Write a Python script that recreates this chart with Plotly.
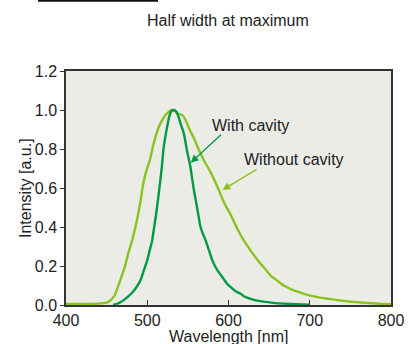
import plotly.graph_objects as go

# Without cavity (light green)
wl_without = [400, 420, 440, 450, 455, 460, 467, 472, 477, 482, 486, 489, 492, 495, 499, 503,
              508, 514, 520, 525, 530, 534, 538, 543, 547, 552, 557, 563, 570, 578, 586, 594,
              603, 611, 619, 627, 636, 644, 652, 660, 668, 676, 685, 693, 701, 713, 726, 738,
              751, 763, 776, 788, 800]
int_without = [0.005, 0.005, 0.007, 0.012, 0.025, 0.05, 0.13, 0.19, 0.27, 0.34, 0.41, 0.47, 0.54,
               0.62, 0.69, 0.74, 0.83, 0.91, 0.96, 0.985, 1.0, 0.995, 0.98, 0.975, 0.95, 0.90,
               0.86, 0.80, 0.74, 0.68, 0.61, 0.53, 0.46, 0.39, 0.33, 0.28, 0.23, 0.19, 0.15,
               0.125, 0.10, 0.083, 0.068, 0.057, 0.048, 0.038, 0.03, 0.023, 0.017, 0.013,
               0.009, 0.006, 0.004]

# With cavity (dark green)
wl_with = [458, 465, 471, 477, 483, 488, 492, 496, 500, 503, 506, 508, 510, 512, 515, 518, 520,
           523, 527, 530, 533, 536, 539, 541, 545, 549, 553, 557, 560, 563, 565, 568, 572, 576,
           580, 586, 593, 598, 603, 609, 615, 619, 630, 643, 655, 668, 684, 700]
int_with = [0.0, 0.01, 0.025, 0.045, 0.07, 0.10, 0.13, 0.18, 0.23, 0.28, 0.33, 0.385, 0.44, 0.50,
            0.60, 0.71, 0.80, 0.88, 0.965, 0.995, 1.0, 0.99, 0.96, 0.93, 0.88, 0.79, 0.71, 0.60,
            0.53, 0.46, 0.41, 0.37, 0.33, 0.28, 0.23, 0.18, 0.14, 0.11, 0.09, 0.07, 0.058,
            0.045, 0.028, 0.017, 0.011, 0.007, 0.004, 0.002]

x_ticks = [400, 500, 600, 700, 800]
y_ticks = [0.0, 0.2, 0.4, 0.6, 0.8, 1.0, 1.2]
y_tick_text = ["0.0", "0.2", "0.4", "0.6", "0.8", "1.0", "1.2"]

LIGHT = "#8cc21f"
DARK = "#009a44"
FONT = "Liberation Sans, Arial, sans-serif"
FS = 16
TXT = "#222222"

# plot area in page pixels
PL, PR, PT, PB = 66, 391, 71, 305
PW, PH = PR - PL, PB - PT


def dx(px):
    return (px - PL) / PW


def dy(py):
    return (PB - py) / PH


def label(x, y, text, angle=0):
    fig.add_annotation(xref="x domain", yref="y domain", x=dx(x), y=dy(y),
                       xanchor="center", yanchor="middle", text=text, showarrow=False,
                       textangle=angle, font=dict(size=FS, color=TXT, family=FONT))


fig = go.Figure()
fig.add_trace(go.Scatter(x=wl_without, y=int_without, mode="lines",
                         line=dict(color=LIGHT, width=2.4, shape="spline", smoothing=0.5),
                         showlegend=False, hoverinfo="skip"))
fig.add_trace(go.Scatter(x=wl_with, y=int_with, mode="lines",
                         line=dict(color=DARK, width=2.4, shape="spline", smoothing=0.5),
                         showlegend=False, hoverinfo="skip"))

fig.add_annotation(x=553.5, y=0.73, ax=592.6, ay=0.88, axref="x", ayref="y", xref="x", yref="y",
                   text="", showarrow=True, arrowhead=2, arrowsize=1.2, arrowwidth=1.3,
                   arrowcolor=DARK)
fig.add_annotation(x=592.6, y=0.59, ax=636.5, ay=0.70, axref="x", ayref="y", xref="x", yref="y",
                   text="", showarrow=True, arrowhead=2, arrowsize=1.2, arrowwidth=1.3,
                   arrowcolor=LIGHT)
fig.add_annotation(x=626.5, y=0.923, text="With cavity", showarrow=False,
                   font=dict(size=FS, color=TXT, family=FONT))
fig.add_annotation(x=680.6, y=0.744, text="Without cavity", showarrow=False,
                   font=dict(size=FS, color=TXT, family=FONT))

# Title and axis titles
label(228, 20, "Half width at maximum")
label(228, 336, "Wavelength [nm]")
label(25, 188, "Intensity [a.u.]", angle=-90)

# Short black rule at the top
fig.add_shape(type="line", xref="x domain", yref="y domain",
              x0=dx(38), x1=dx(158), y0=dy(0.8), y1=dy(0.8),
              line=dict(color="#111111", width=2))

fig.update_layout(
    width=419, height=344,
    margin=dict(l=PL, r=419 - PR, t=PT, b=344 - PB, autoexpand=False),
    paper_bgcolor="white",
    plot_bgcolor="#ecece7",
    font=dict(family=FONT, size=FS, color=TXT),
)
fig.update_xaxes(range=[400, 800], tickvals=x_ticks, ticks="inside", ticklen=5,
                 tickcolor="#333333", tickwidth=1.2, automargin=False,
                 showline=True, linecolor="#333333", linewidth=1.5, mirror=True,
                 showgrid=False, zeroline=False, tickfont=dict(size=FS))
fig.update_yaxes(range=[0, 1.2], tickvals=y_ticks, ticktext=y_tick_text, ticks="outside",
                 ticklen=4, tickcolor="#333333", tickwidth=1.2, automargin=False,
                 showline=True, linecolor="#333333", linewidth=1.5, mirror=True,
                 showgrid=False, zeroline=False, tickfont=dict(size=FS))

fig.write_html("out.html", config={"displayModeBar": False},
               post_script="document.body.style.margin='0';")
